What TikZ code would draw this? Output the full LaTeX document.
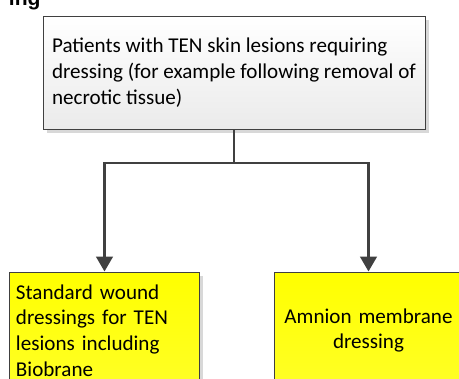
\documentclass[tikz,border=0pt]{standalone}
\usepackage{fontspec}
\setmainfont{Carlito}
\newfontfamily\headfont{Liberation Sans}
\usetikzlibrary{positioning,arrows.meta,shadows}
\definecolor{edge}{HTML}{404040}

\begin{document}
\begin{tikzpicture}[>={Triangle[width=0.5cm,length=0.45cm]},
  every node/.style={font=\fontsize{18}{22}\selectfont},
  box/.style={draw=edge, line width=0.03cm, drop shadow={shadow xshift=0.12cm, shadow yshift=-0.12cm, fill=black!30, opacity=0.5}},
  choice/.style={box, top color=yellow, bottom color=yellow!85!white, minimum width=5.67cm, minimum height=3.51cm, text width=5.31cm, inner xsep=0.18cm},
  flow/.style={->, draw=edge, line width=0.08cm}]
  \clip (0,0) rectangle (13.77,-11.34);
  % heading, cut off by the page edge
  \node[font=\headfont\bfseries\fontsize{18}{21}\selectfont, anchor=base west, inner sep=0pt] (title) at (0.26,-0.15) {ing};
  \node[box, top color=white, bottom color=black!8, minimum width=11.46cm, minimum height=3.39cm, align=left] (patients) at (7.02,-2.175) {Patients with TEN skin lesions requiring\\ dressing (for example following removal of\\ necrotic tissue)};
  \node[choice, align=left] (standard) at (3.135,-9.915) {Standard wound\\ dressings for TEN\\ lesions including\\ Biobrane};
  \node[choice, align=center] (amnion) at (11.055,-9.915) {Amnion membrane\\ dressing};
  \coordinate (split) at (7.02,-4.89);
  \draw[flow] (patients.south) -- (split) -| (standard.north);
  \draw[flow] (patients.south) -- (split) -| (amnion.north);
\end{tikzpicture}
\end{document}
